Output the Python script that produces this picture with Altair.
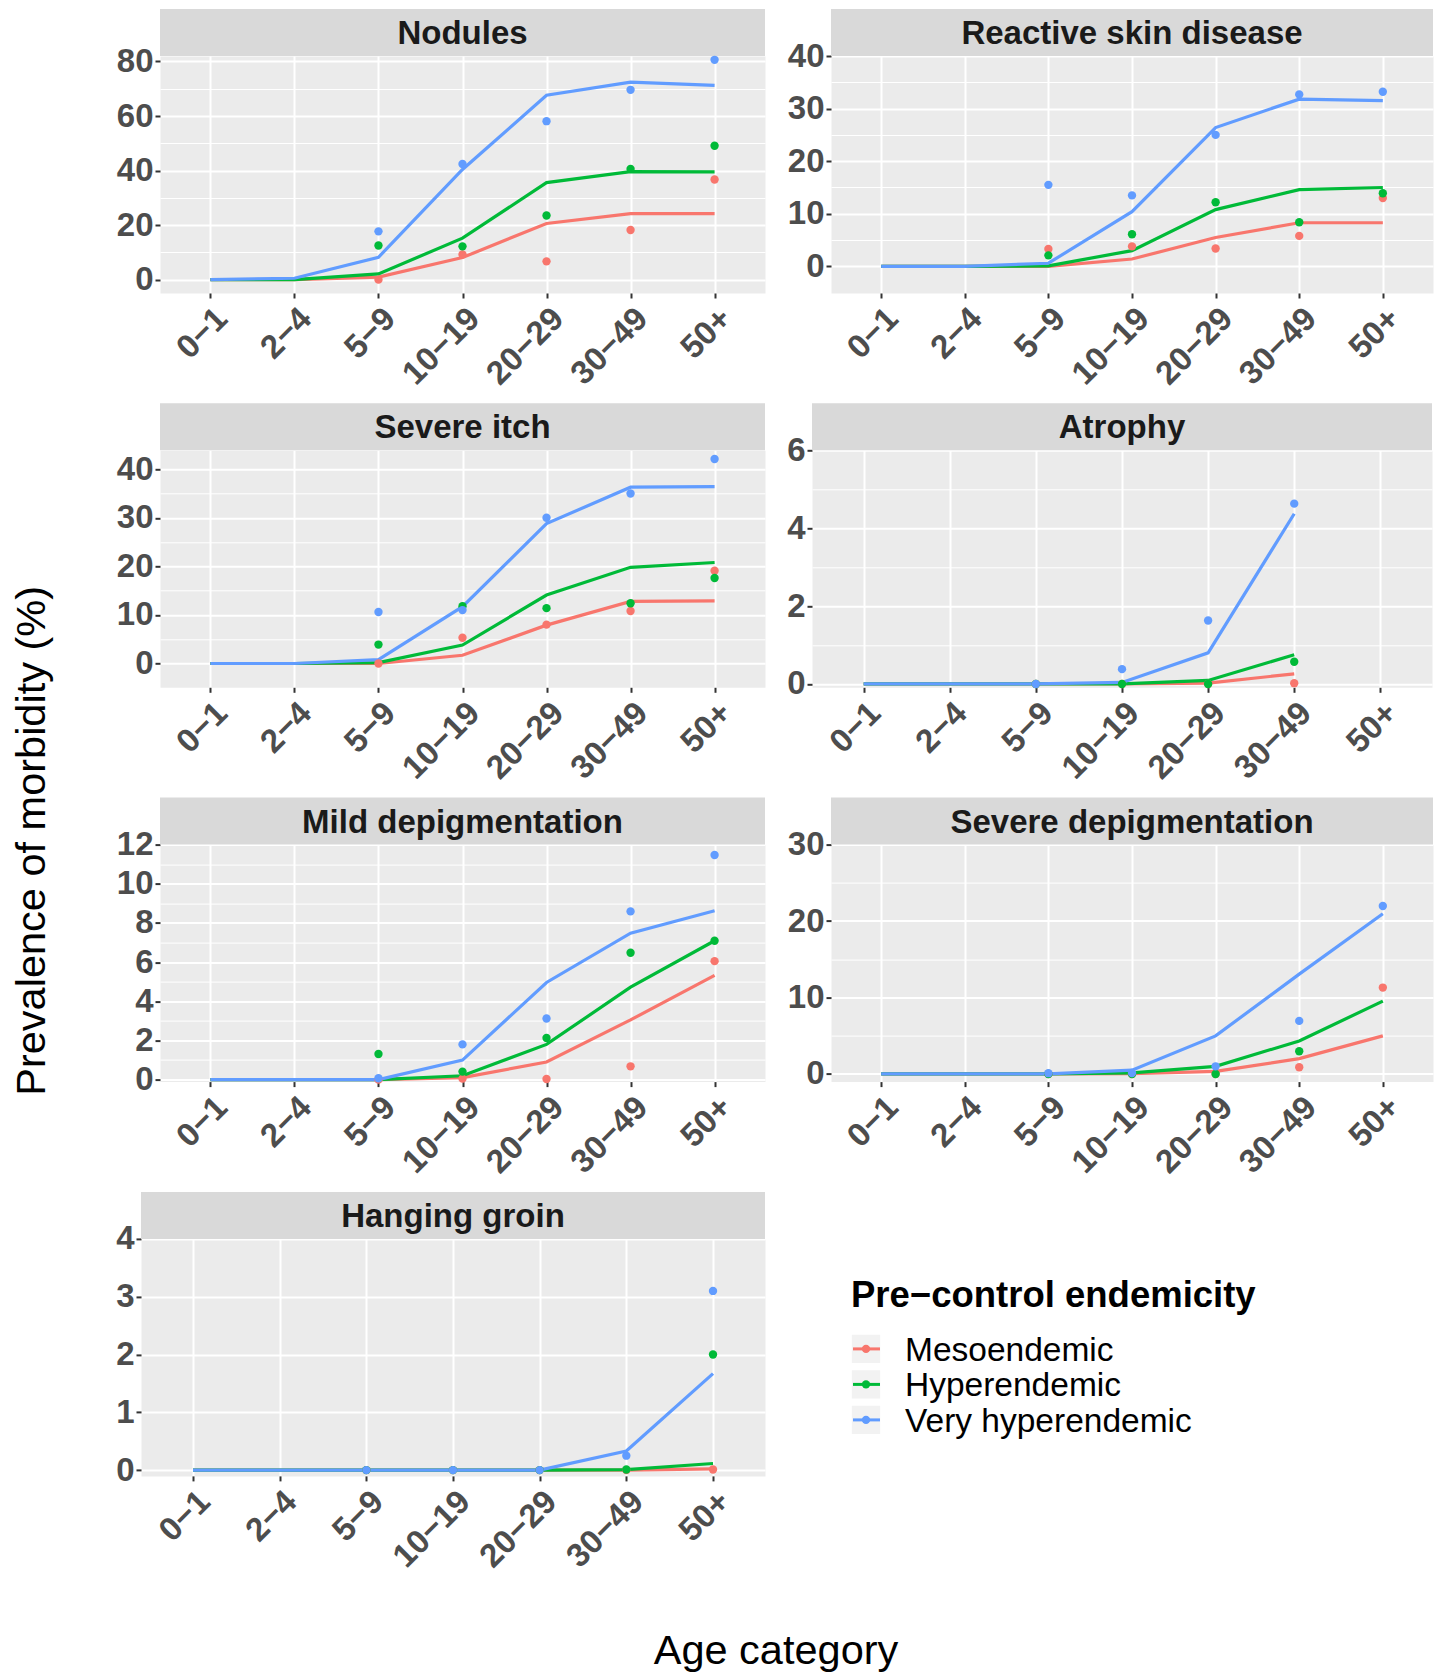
import altair as alt
import pandas as pd

# ---------------- data ----------------
AGES = ["0−1", "2−4", "5−9", "10−19", "20−29", "30−49", "50+"]
SERIES = ["Mesoendemic", "Hyperendemic", "Very hyperendemic"]
COLORS = ["#F8766D", "#00BA38", "#619CFF"]

Y_TITLE = "Prevalence of morbidity (%)"
X_TITLE = "Age category"
LEGEND_TITLE = "Pre−control endemicity"

NODULES_MODEL = {
    "Mesoendemic": [0, 0, 0.9, 8.1, 20.6, 24.2, 24.2],
    "Hyperendemic": [0, 0, 2.1, 15.2, 35.6, 39.6, 39.5],
    "Very hyperendemic": [0, 0.5, 8.2, 40.4, 67.6, 72.4, 71.2],
}
NODULES_OBS = {
    "Mesoendemic": [None, None, 0, 9.2, 6.7, 18.2, 36.7],
    "Hyperendemic": [None, None, 12.5, 12.2, 23.5, 40.6, 49.1],
    "Very hyperendemic": [None, None, 17.7, 42.4, 58.1, 69.6, 80.6],
}
NODULES_YLIM = [-4.9, 82]
NODULES_TICKS = [0, 20, 40, 60, 80]

REACTIVE_MODEL = {
    "Mesoendemic": [0, 0, 0, 1.4, 5.5, 8.3, 8.3],
    "Hyperendemic": [0, 0, 0.1, 3.0, 10.8, 14.6, 15.0],
    "Very hyperendemic": [0, 0, 0.6, 10.4, 26.4, 31.8, 31.5],
}
REACTIVE_OBS = {
    "Mesoendemic": [None, None, 3.3, 3.8, 3.4, 5.8, 13.0],
    "Hyperendemic": [None, None, 2.1, 6.1, 12.2, 8.4, 13.9],
    "Very hyperendemic": [None, None, 15.5, 13.5, 25.0, 32.7, 33.2],
}
REACTIVE_YLIM = [-5.06, 40]
REACTIVE_TICKS = [0, 10, 20, 30, 40]

ITCH_MODEL = {
    "Mesoendemic": [0, 0, 0, 1.7, 7.9, 12.8, 12.9],
    "Hyperendemic": [0, 0, 0.2, 3.8, 14.1, 19.8, 20.8],
    "Very hyperendemic": [0, 0, 0.8, 11.7, 28.8, 36.3, 36.4],
}
ITCH_OBS = {
    "Mesoendemic": [None, None, 0, 5.3, 8.0, 10.8, 19.1],
    "Hyperendemic": [None, None, 3.9, 11.8, 11.4, 12.4, 17.6],
    "Very hyperendemic": [None, None, 10.6, 11.0, 30.0, 35.0, 42.1],
}
ITCH_YLIM = [-4.9, 43.9]
ITCH_TICKS = [0, 10, 20, 30, 40]

ATROPHY_MODEL = {
    "Mesoendemic": [0, 0, 0, 0, 0.02, 0.26, None],
    "Hyperendemic": [0, 0, 0, 0, 0.09, 0.75, None],
    "Very hyperendemic": [0, 0, 0, 0.04, 0.8, 4.37, None],
}
ATROPHY_OBS = {
    "Mesoendemic": [None, None, 0, 0, 0, 0.02, None],
    "Hyperendemic": [None, None, 0, 0, 0, 0.57, None],
    "Very hyperendemic": [None, None, 0, 0.38, 1.63, 4.63, None],
}
ATROPHY_YLIM = [-0.086, 6]
ATROPHY_TICKS = [0, 2, 4, 6]

MILD_MODEL = {
    "Mesoendemic": [0, 0, 0, 0.1, 0.9, 3.05, 5.32],
    "Hyperendemic": [0, 0, 0, 0.2, 1.8, 4.72, 7.09],
    "Very hyperendemic": [0, 0, 0, 1.0, 4.96, 7.48, 8.62],
}
MILD_OBS = {
    "Mesoendemic": [None, None, 0, 0.05, 0.03, 0.68, 6.05],
    "Hyperendemic": [None, None, 1.31, 0.41, 2.13, 6.48, 7.09],
    "Very hyperendemic": [None, None, 0.07, 1.8, 3.12, 8.59, 11.47],
}
MILD_YLIM = [-0.1, 12]
MILD_TICKS = [0, 2, 4, 6, 8, 10, 12]

SEVDEP_MODEL = {
    "Mesoendemic": [0, 0, 0, 0.04, 0.35, 2.0, 4.98],
    "Hyperendemic": [0, 0, 0, 0.13, 1.0, 4.32, 9.52],
    "Very hyperendemic": [0, 0, 0, 0.5, 4.98, 13.06, 20.96],
}
SEVDEP_OBS = {
    "Mesoendemic": [None, None, 0, 0, 0, 0.87, 11.3],
    "Hyperendemic": [None, None, 0, 0, 0, 2.97, None],
    "Very hyperendemic": [None, None, 0.1, 0.13, 1.0, 6.94, 21.97],
}
SEVDEP_YLIM = [-1.0, 30]
SEVDEP_TICKS = [0, 10, 20, 30]

GROIN_MODEL = {
    "Mesoendemic": [0, 0, 0, 0, 0, 0, 0.02],
    "Hyperendemic": [0, 0, 0, 0, 0, 0.01, 0.115],
    "Very hyperendemic": [0, 0, 0, 0, 0, 0.33, 1.67],
}
GROIN_OBS = {
    "Mesoendemic": [None, None, 0, 0, 0, 0, 0.01],
    "Hyperendemic": [None, None, 0, 0, 0, 0.01, 2.0],
    "Very hyperendemic": [None, None, 0, 0, 0, 0.25, 3.1],
}
GROIN_YLIM = [-0.1, 4]
GROIN_TICKS = [0, 1, 2, 3, 4]

# ---------------- style ----------------
FONT = "Liberation Sans"
PANEL_H = 237
STRIP_H = 47
TICK_FS = 33
GREY_TXT = "#4D4D4D"
WHITE_VIEW = alt.ViewBackground(fill="white", stroke="transparent")


def long_df(d):
    rows = []
    for s in SERIES:
        for a, v in zip(AGES, d[s]):
            if v is not None:
                rows.append({"age": a, "series": s, "value": v})
    return pd.DataFrame(rows)


def panel(name, model, obs, ylim, ticks, width):
    major = ticks[1] - ticks[0]
    mids = [(ticks[i] + ticks[i + 1]) / 2 for i in range(len(ticks) - 1)]
    vals = sorted(ticks + mids)
    test = f"abs(datum.value / {major} - round(datum.value / {major})) < 0.001"

    x_enc = alt.X(
        "age:N",
        scale=alt.Scale(type="point", domain=AGES, padding=0.6),
        axis=alt.Axis(
            title=None, labelAngle=315, labelAlign="right", labelBaseline="top",
            labelFontSize=TICK_FS, labelFontWeight="bold", labelColor=GREY_TXT,
            labelFont=FONT, labelPadding=4, labelOverlap=False,
            tickColor="#333333", tickSize=5, tickWidth=2, domain=False,
            grid=True, gridColor="white", gridWidth=2,
        ),
    )
    y_enc = alt.Y(
        "value:Q",
        scale=alt.Scale(domain=ylim, nice=False, zero=False),
        axis=alt.Axis(
            title=None, values=vals, format="d",
            labelExpr=f"({test}) ? datum.label : ''",
            labelFontSize=TICK_FS, labelFontWeight="bold", labelColor=GREY_TXT,
            labelFont=FONT, labelPadding=2, labelOverlap=False,
            tickColor="#333333", tickSize=5, tickWidth=2,
            tickOpacity={"condition": {"test": test, "value": 1}, "value": 0},
            domain=False, grid=True, gridColor="white",
            gridWidth={"condition": {"test": test, "value": 2}, "value": 1},
        ),
    )
    color = alt.Color("series:N", scale=alt.Scale(domain=SERIES, range=COLORS), legend=None)

    strip_data = alt.Data(values=[{"panel": name}])
    strip = alt.Chart(strip_data).mark_rect(color="#D9D9D9").encode(
        x=alt.value(0), x2=alt.value(width), y=alt.value(-STRIP_H), y2=alt.value(0)
    )
    strip_txt = alt.Chart(strip_data).mark_text(
        font=FONT, fontSize=33, fontWeight="bold", color="#1A1A1A",
        align="center", baseline="alphabetic",
    ).encode(x=alt.value(width / 2), y=alt.value(-12), text="panel:N")

    lines = alt.Chart(long_df(model)).mark_line(strokeWidth=3.2).encode(
        x=x_enc, y=y_enc, color=color, detail="series:N"
    )
    pts = alt.Chart(long_df(obs)).mark_circle(size=70, opacity=1).encode(
        x=x_enc, y=y_enc, color=color
    )
    return alt.layer(strip, strip_txt, lines, pts).properties(
        width=width, height=PANEL_H,
        view=alt.ViewBackground(fill="#EBEBEB", stroke="transparent"),
    )


W_L = 605
W_R = 602
W_WIDE_L = 624
W_WIDE_R = 620

nod = panel("Nodules", NODULES_MODEL, NODULES_OBS, NODULES_YLIM, NODULES_TICKS, W_L)
rea = panel("Reactive skin disease", REACTIVE_MODEL, REACTIVE_OBS, REACTIVE_YLIM, REACTIVE_TICKS, W_R)
itc = panel("Severe itch", ITCH_MODEL, ITCH_OBS, ITCH_YLIM, ITCH_TICKS, W_L)
atr = panel("Atrophy", ATROPHY_MODEL, ATROPHY_OBS, ATROPHY_YLIM, ATROPHY_TICKS, W_WIDE_R)
mil = panel("Mild depigmentation", MILD_MODEL, MILD_OBS, MILD_YLIM, MILD_TICKS, W_L)
sev = panel("Severe depigmentation", SEVDEP_MODEL, SEVDEP_OBS, SEVDEP_YLIM, SEVDEP_TICKS, W_R)
gro = panel("Hanging groin", GROIN_MODEL, GROIN_OBS, GROIN_YLIM, GROIN_TICKS, W_WIDE_L)

# ---------------- manual legend ----------------
leg_df = pd.DataFrame({"series": SERIES})
leg_y = alt.Y("series:N", scale=alt.Scale(type="point", domain=SERIES, range=[110, 181], padding=0), axis=None)
leg_color = alt.Color("series:N", scale=alt.Scale(domain=SERIES, range=COLORS), legend=None)
leg_base = alt.Chart(leg_df)
leg_bg = leg_base.mark_square(size=800, color="#F2F2F2", opacity=1).encode(x=alt.value(79), y=leg_y)
leg_line = leg_base.mark_rule(strokeWidth=3).encode(
    x=alt.value(66), x2=alt.value(93), y=leg_y, color=leg_color
)
leg_pt = leg_base.mark_circle(size=70, opacity=1).encode(x=alt.value(79), y=leg_y, color=leg_color)
leg_lab = leg_base.mark_text(
    font=FONT, fontSize=33.5, color="black", align="left", baseline="middle", dy=2
).encode(x=alt.value(118), y=leg_y, text="series:N")
leg_title = alt.Chart(alt.Data(values=[{"t": LEGEND_TITLE}])).mark_text(
    font=FONT, fontSize=36.5, fontWeight="bold", color="black", align="left", baseline="alphabetic"
).encode(x=alt.value(64), y=alt.value(68), text="t:N")
legend = alt.layer(leg_bg, leg_line, leg_pt, leg_lab, leg_title).properties(
    width=520, height=220, view=WHITE_VIEW
)


def spacer():
    return alt.Chart(alt.Data(values=[{"s": ""}])).mark_text().encode(
        x=alt.value(0), y=alt.value(0), text="s:N"
    ).properties(width=32, height=10, view=WHITE_VIEW)


# x-axis title as its own row under the grid
xtitle = alt.Chart(alt.Data(values=[{"t": X_TITLE}])).mark_text(
    font=FONT, fontSize=41.5, color="black", align="center", baseline="alphabetic"
).encode(x=alt.value(714), y=alt.value(78), text="t:N").properties(
    width=800, height=80, view=WHITE_VIEW
)

H_SP = 20
chart = alt.vconcat(
    alt.hconcat(spacer(), nod, rea, spacing=H_SP),
    alt.hconcat(spacer(), itc, atr, spacing=H_SP),
    alt.hconcat(spacer(), mil, sev, spacing=H_SP),
    alt.hconcat(spacer(), gro, legend, spacing=H_SP),
    xtitle,
    spacing=10.3,
).properties(
    padding={"left": 3, "top": 0, "right": 0, "bottom": 0}, background="white",
    title=alt.TitleParams(
        Y_TITLE, orient="left", anchor="middle", fontSize=41.5, fontWeight="normal",
        font=FONT, color="black", offset=8,
    ),
).configure(font=FONT).configure_view(stroke="transparent")

chart.save("out.html", embed_options={"renderer": "svg", "actions": False})
